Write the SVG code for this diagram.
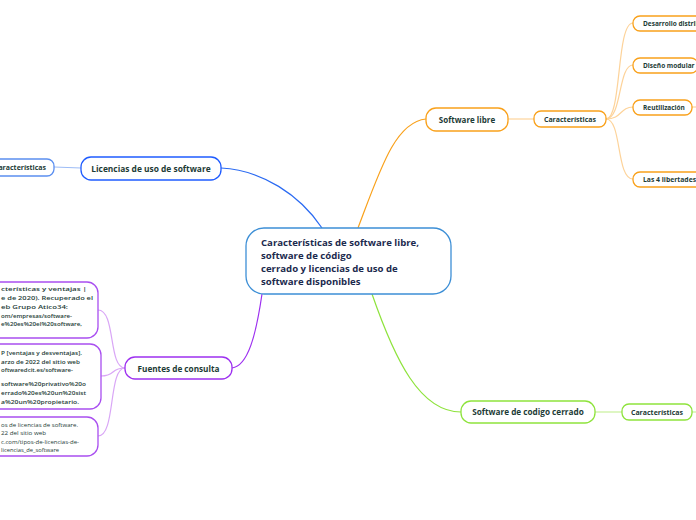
<svg xmlns="http://www.w3.org/2000/svg" width="696" height="520" viewBox="0 0 696 520">
<style>
.n{fill:#fff;stroke-width:1.3}
.t{font-family:"Open Sans","Noto Sans",sans-serif;font-weight:700;fill:#1d3b36}
.c{fill:none;stroke-width:1.2}
.s{font-family:"Open Sans","Noto Sans",sans-serif;font-weight:600;fill:#1d3b36;font-size:6px}
.r{font-family:"Open Sans","Noto Sans",sans-serif;font-weight:400;fill:#1d3b36;font-size:6px}
</style>
<rect width="696" height="520" fill="#fff"/>
<g id="connectors">
<path class="c" stroke="#2a6af2" d="M322,228 C300,195 262,170 221,168"/>
<path class="c" stroke="#9dbcf6" d="M81,168 L54,167"/>
<path class="c" stroke="#f9a11b" d="M358,228 C380,170 395,122 426,119"/>
<path class="c" stroke="#fdd39a" d="M508,119 L534,119"/>
<path class="c" stroke="#fdd39a" d="M606,119 C622,119 616,23 633,23"/>
<path class="c" stroke="#fdd39a" d="M606,119 C622,119 618,65 633,65"/>
<path class="c" stroke="#fdd39a" d="M606,119 C622,119 620,107 633,107"/>
<path class="c" stroke="#fdd39a" d="M606,119 C622,119 616,179 633,179"/>
<path class="c" stroke="#fdd39a" d="M692,107 L696,107"/>
<path class="c" stroke="#8ee33c" d="M372,294 C395,360 420,412 461,412"/>
<path class="c" stroke="#c8f09c" d="M595,412 L622,412"/>
<path class="c" stroke="#c8f09c" d="M692,412 L696,412"/>
<path class="c" stroke="#9d30f0" d="M262,294 C256,335 248,366 232,368"/>
<path class="c" stroke="#d9a6f6" d="M125,368 C108,368 116,310 98,310"/>
<path class="c" stroke="#d9a6f6" d="M125,368 C110,368 116,376 101,376"/>
<path class="c" stroke="#d9a6f6" d="M125,368 C108,368 116,436 98,436"/>
</g>
<g id="central">
<rect class="n" x="246" y="228" width="205" height="66" rx="18" stroke="#3d8fd6"/>
<text class="t" font-size="9.6" style="fill:#1c2a4e"><tspan x="261" y="245.5">Características de software libre,</tspan><tspan x="261" y="258.5">software de código</tspan><tspan x="261" y="272">cerrado y licencias de uso de</tspan><tspan x="261" y="285">software disponibles</tspan></text>
</g>
<g id="licencias">
<rect class="n" x="81" y="157" width="140" height="23" rx="10" stroke="#1f5cff"/>
<text class="t" x="151" y="171.5" font-size="8.4" text-anchor="middle">Licencias de uso de software</text>
</g>
<g id="lic-caracteristicas">
<rect class="n" x="-14" y="159" width="68" height="17" rx="7" stroke="#5b8ff0"/>
<text class="t" x="20" y="170" font-size="7" text-anchor="middle">Características</text>
</g>
<g id="software-libre">
<rect class="n" x="426" y="108" width="82" height="23" rx="10" stroke="#f9a11b"/>
<text class="t" x="467" y="122.5" font-size="8" text-anchor="middle">Software libre</text>
</g>
<g id="libre-caracteristicas">
<rect class="n" x="534" y="111" width="72" height="16" rx="7" stroke="#f9a11b"/>
<text class="t" x="570" y="121.8" font-size="7" text-anchor="middle">Características</text>
</g>
<g id="desarrollo">
<rect class="n" x="633" y="16" width="80" height="15" rx="7" stroke="#f9a11b"/>
<text class="t" x="643" y="26" font-size="6.5">Desarrollo distribuido</text>
</g>
<g id="diseno">
<rect class="n" x="633" y="58" width="65" height="15" rx="7" stroke="#f9a11b"/>
<text class="t" x="643" y="68" font-size="6.5">Diseño modular</text>
</g>
<g id="reutilizacion">
<rect class="n" x="633" y="100" width="59" height="15" rx="7" stroke="#f9a11b"/>
<text class="t" x="643" y="110" font-size="6.5">Reutilización</text>
</g>
<g id="libertades">
<rect class="n" x="633" y="172" width="90" height="15" rx="7" stroke="#f9a11b"/>
<text class="t" x="643" y="182" font-size="6.8">Las 4 libertades del software libre</text>
</g>
<g id="codigo-cerrado">
<rect class="n" x="461" y="401" width="134" height="22" rx="10" stroke="#8ee33c"/>
<text class="t" x="528" y="415" font-size="8.2" text-anchor="middle">Software de codigo cerrado</text>
</g>
<g id="cerrado-caracteristicas">
<rect class="n" x="622" y="404" width="70" height="16" rx="7" stroke="#8ee33c"/>
<text class="t" x="657" y="414.8" font-size="7" text-anchor="middle">Características</text>
</g>
<g id="fuentes">
<rect class="n" x="125" y="357" width="107" height="22" rx="10" stroke="#9d30f0"/>
<text class="t" x="178.5" y="371.5" font-size="8.2" text-anchor="middle">Fuentes de consulta</text>
</g>
<g id="fuente-1">
<rect class="n" x="-20" y="282" width="118" height="56" rx="11" stroke="#a94ff0"/>
<text class="s"><tspan x="1" y="291" textLength="86" lengthAdjust="spacingAndGlyphs">cterísticas y ventajas |</tspan><tspan x="1" y="300" textLength="92" lengthAdjust="spacingAndGlyphs">e de 2020). Recuperado el</tspan><tspan x="1" y="309" textLength="67" lengthAdjust="spacingAndGlyphs">eb Grupo Atico34:</tspan><tspan x="1" y="317.5" textLength="71" lengthAdjust="spacingAndGlyphs">om/empresas/software-</tspan><tspan x="1" y="326" textLength="81" lengthAdjust="spacingAndGlyphs">e%20es%20el%20software,</tspan></text>
</g>
<g id="fuente-2">
<rect class="n" x="-20" y="344" width="121" height="65" rx="11" stroke="#a94ff0"/>
<text class="s"><tspan x="1" y="354.5" textLength="81" lengthAdjust="spacingAndGlyphs">P [ventajas y desventajas].</tspan><tspan x="1" y="363.5" textLength="79" lengthAdjust="spacingAndGlyphs">arzo de 2022 del sitio web</tspan><tspan x="1" y="372" textLength="72" lengthAdjust="spacingAndGlyphs">oftwaredcit.es/software-</tspan><tspan x="1" y="386" textLength="85" lengthAdjust="spacingAndGlyphs">software%20privativo%20o</tspan><tspan x="1" y="395" textLength="85" lengthAdjust="spacingAndGlyphs">errado%20es%20un%20sist</tspan><tspan x="1" y="404" textLength="78" lengthAdjust="spacingAndGlyphs">a%20un%20propietario.</tspan></text>
</g>
<g id="fuente-3">
<rect class="n" x="-20" y="417" width="118" height="39" rx="11" stroke="#a94ff0"/>
<text class="r"><tspan x="1" y="426.5" textLength="77" lengthAdjust="spacingAndGlyphs">os de licencias de software.</tspan><tspan x="1" y="435" textLength="45" lengthAdjust="spacingAndGlyphs">22 del sitio web</tspan><tspan x="1" y="443.5" textLength="78" lengthAdjust="spacingAndGlyphs">c.com/tipos-de-licencias-de-</tspan><tspan x="1" y="452" textLength="58" lengthAdjust="spacingAndGlyphs">licencias_de_software</tspan></text>
</g>
</svg>
